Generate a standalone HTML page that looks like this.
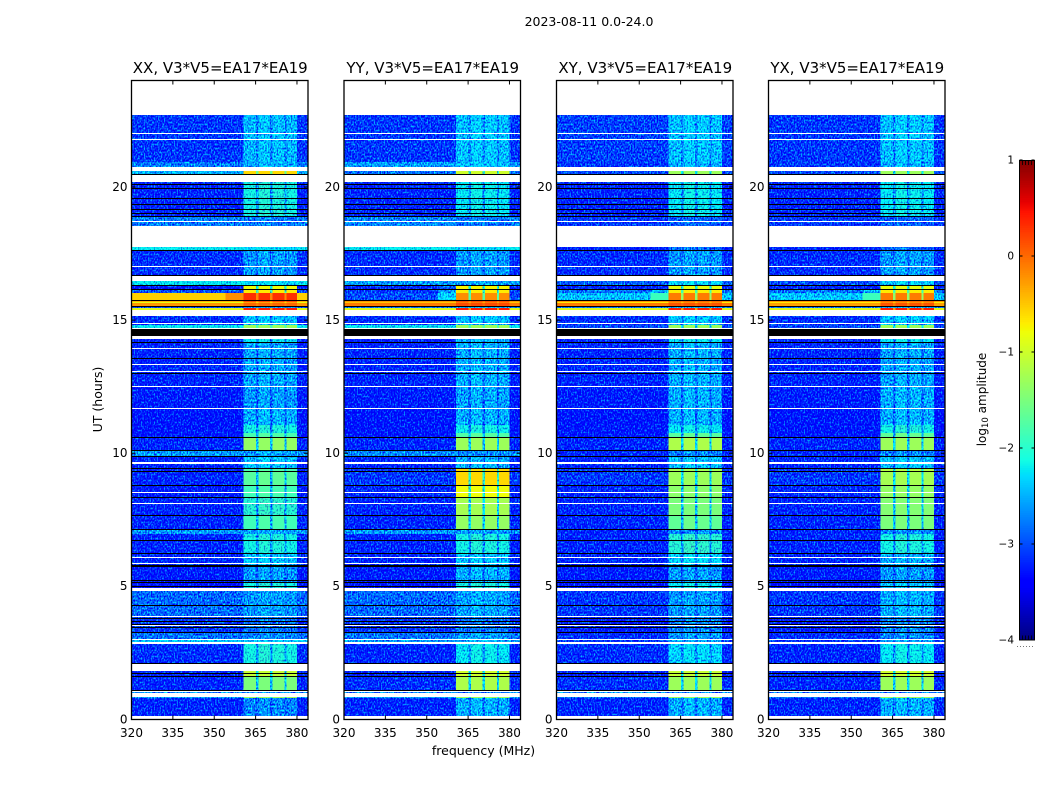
<!DOCTYPE html>
<html lang="en">
<head>
<meta charset="utf-8">
<title>2023-08-11 dynamic spectra</title>
<style>
html,body{margin:0;padding:0;background:#fff;}
svg{display:block;font-family:"DejaVu Sans","Liberation Sans",sans-serif;fill:#000;}
</style>
</head>
<body>
<svg id="figure" xmlns="http://www.w3.org/2000/svg" width="1050" height="800" viewBox="0 0 1050 800">
<defs>
<filter id="grain" filterUnits="userSpaceOnUse" x="0" y="0" width="1050" height="800" color-interpolation-filters="sRGB">
<feTurbulence type="fractalNoise" baseFrequency="0.7 0.5" numOctaves="1" seed="4" result="t"/>
<feColorMatrix in="t" type="matrix" values="0.15 0 0 0 0.4  2.2 0 0 0 -0.62  0.2 0 0 0 0.4  0 0 0 0 1" result="n"/>
<feComposite in="SourceGraphic" in2="n" operator="arithmetic" k1="0" k2="1" k3="1" k4="-0.5" result="c"/>
<feComposite in="c" in2="SourceGraphic" operator="in"/>
</filter>
</defs>
<text x="589" y="26" font-size="12.5" text-anchor="middle">2023-08-11 0.0-24.0</text>
<text x="483.5" y="755" font-size="12.5" text-anchor="middle">frequency (MHz)</text>
<text transform="translate(102 399.5) rotate(-90)" font-size="12.5" text-anchor="middle">UT (hours)</text>
<text transform="translate(986 399.5) rotate(-90)" font-size="12" text-anchor="middle">log<tspan font-size="8.5" dy="2">10</tspan><tspan dy="-2"> amplitude</tspan></text>
<g id="panels"></g>
<g id="colorbar"></g>
</svg>
<script>
// Axis tick labels
const freqTicks = [320, 335, 350, 365, 380];
const utTicks = [0, 5, 10, 15, 20];
const cbarTicks = [-4, -3, -2, -1, 0, 1];
const panelTitles = ["XX, V3*V5=EA17*EA19", "YY, V3*V5=EA17*EA19", "XY, V3*V5=EA17*EA19", "YX, V3*V5=EA17*EA19"];

// Frequency segments (MHz) and what each holds
const freqEdges = [320, 354, 360.7, 365.1, 366, 370.3, 371.1, 375.5, 376.2, 380.1, 384];
const freqRoles = ["off", "shoulder", "ch", "gap", "ch", "gap", "ch", "gap", "ch", "off"];
const channelGains = [-0.12, -0.04, -0.07, -0.12];

// Time blocks (UT hours), upper and lower bound
const blockTop = [22.69,20.93,20.61,20.18,18.88,17.74,17.61,16.46,16.31,16.13,16.01,15.77,15.68,15.64,15.53,15.47,15.15,14.83,14.29,14.16,12.53,11.70,11.06,10.76,10.59,10.13,9.88,9.45,9.30,8.81,8.36,7.69,7.16,6.98,6.26,5.74,5.14,4.84,3.90,3.30,3.00,2.85,1.84,1.61,1.05,0.86,0.79];
const blockBottom = [20.93,20.74,20.46,18.88,18.54,17.61,16.69,16.31,16.13,16.01,15.77,15.68,15.64,15.53,15.47,15.38,14.83,14.70,14.16,12.53,11.70,11.06,10.76,10.59,10.13,9.88,9.45,9.30,8.81,8.36,7.69,7.16,6.98,6.26,5.81,5.14,4.93,3.90,3.30,3.00,2.89,2.14,1.61,1.09,1.01,0.79,0.15];

// log10 amplitude per block: off-band level and in-band level
const xxOff = [-3.1,-2.75,-2.5,-3.2,-2.75,-2.2,-3.15,-2.2,-3.3,-3.0,-0.55,-0.4,-0.85,-0.25,-3,-0.9,-3.15,-2.2,-3.2,-3.2,-3.25,-3.3,-3.3,-3.3,-3.2,-2.6,-3.2,-3.2,-3.2,-3.25,-3.2,-3.2,-2.6,-3.2,-3.2,-3.25,-3.35,-2.85,-3.1,-2.8,-2.4,-3.15,-3.2,-3.2,-2.7,-2.6,-3.2];
const xxOn = [-2.35,-2.4,-0.6,-2.0,-2.7,-2.2,-2.5,-2.2,-0.8,-0.7,0.3,0.15,-0.3,0,-2.5,0.4,-2.3,-1.3,-2.1,-2.45,-2.5,-2.4,-2.0,-1.7,-1.35,-2.5,-2.3,-1.7,-1.6,-1.75,-1.9,-1.75,-2.5,-2.0,-2.3,-2.5,-2.0,-2.5,-2.7,-2.6,-2.3,-2.0,-1.05,-1.5,-2.7,-1.3,-2.6];
const yyOff = [-3.1,-2.6,-2.8,-3.2,-2.7,-2.2,-3.15,-2.6,-3.2,-3.1,-3.0,-0.25,-0.5,-0.1,-2.8,-0.9,-3.15,-2.2,-3.2,-3.2,-3.25,-3.3,-3.3,-3.3,-3.2,-2.7,-3.2,-3.1,-3.1,-3.2,-3.2,-3.2,-2.6,-3.2,-3.2,-3.25,-3.3,-2.85,-3.1,-2.8,-2.6,-3.2,-3.2,-3.15,-2.7,-2.6,-3.2];
const yyOn = [-2.3,-2.3,-1.0,-2.1,-2.7,-2.2,-2.5,-2.5,-0.75,-0.7,-0.2,0.15,-0.1,0.15,-2.4,0.4,-2.3,-1.3,-2.4,-2.4,-2.45,-2.4,-2.05,-1.65,-1.3,-2.6,-2.4,-0.6,-0.6,-0.8,-1.25,-1.35,-2.5,-2.0,-2.3,-2.4,-2.0,-2.45,-2.7,-2.5,-2.4,-2.1,-1.0,-1.2,-2.7,-1.3,-2.4];
const xyOff = [-3.05,-3.1,-3.0,-3.2,-3.1,-3.2,-3.15,-2.9,-3.2,-2.8,-2.4,-0.25,-0.7,-0.1,-2.8,-0.9,-3.15,-3.0,-3.2,-3.2,-3.25,-3.3,-3.3,-3.3,-3.2,-3.2,-3.2,-3.1,-3.1,-3.2,-3.2,-3.2,-3.2,-3.2,-3.2,-3.25,-3.3,-3.1,-3.25,-3.15,-3.1,-3.15,-3.2,-3.15,-2.7,-2.8,-3.2];
const xyOn = [-2.3,-2.4,-1.3,-2.1,-2.8,-2.7,-2.5,-2.2,-0.85,-0.7,-0.1,0,-0.2,0.1,-2.4,0.4,-2.3,-1.3,-2.1,-2.4,-2.4,-2.4,-2.1,-1.6,-1.2,-2.6,-2.3,-1.25,-1.3,-1.4,-1.5,-1.55,-2.6,-1.9,-2.2,-2.5,-2.1,-2.5,-2.6,-2.5,-2.5,-2.2,-1.05,-1.3,-2.7,-1.3,-2.4];
const yxOff = [-3.1,-3.1,-3.0,-3.2,-3.1,-3.2,-3.15,-3.0,-3.2,-2.8,-2.4,-0.25,-0.7,-0.3,-2.8,-0.9,-3.15,-3.0,-3.2,-3.2,-3.25,-3.3,-3.3,-3.3,-3.2,-3.2,-3.2,-3.1,-3.1,-3.2,-3.2,-3.2,-3.2,-3.2,-3.2,-3.25,-3.3,-3.1,-3.25,-3.15,-3.1,-3.2,-3.2,-3.2,-2.7,-2.8,-3.2];
const yxOn = [-2.3,-2.4,-1.3,-2.1,-2.8,-2.8,-2.5,-2.2,-0.85,-0.7,-0.1,0,-0.2,0.1,-2.4,0.4,-2.3,-1.3,-2.1,-2.45,-2.4,-2.4,-2.0,-1.55,-1.3,-2.6,-2.3,-1.15,-1.25,-1.35,-1.45,-1.5,-2.6,-2.0,-2.4,-2.5,-2.3,-2.4,-2.6,-2.6,-2.5,-2.1,-1.0,-1.3,-2.7,-1.3,-2.4];

// Blocks with leakage just below the band: block number and shoulder level
const xxShoulder = [[10, -0.2]];
const yyShoulder = [[8, -2.9], [9, -2.6], [10, -2.3]];
const xyShoulder = [[9, -2.5], [10, -1.9]];
const yxShoulder = [[9, -2.5], [10, -1.9]];

// Flagged times (UT hours): upper and lower bounds
const blackTop = [20.475,20.10,19.95,19.575,19.35,19.16,19.01,18.90,17.625,16.69,16.33,16.16,15.77,15.525,14.66,14.175,13.575,13.01,10.61,10.14,9.90,9.45,9.34,8.81,8.36,7.67,7.16,6.75,6.24,5.81,5.25,5.175,5.025,4.31,3.825,3.69,3.60,3.49,3.30,2.14,1.74,1.63,1.11];
const blackBottom = [20.4375,20.0625,19.91,19.54,19.31,19.125,18.975,18.86,17.59,16.65,16.29,16.125,15.73,15.49,14.42,14.14,13.54,12.975,10.575,10.11,9.86,9.39,9.28,8.775,8.325,7.63,7.125,6.71,6.21,5.72,5.21,5.14,4.99,4.275,3.79,3.66,3.56,3.45,3.26,2.10,1.70,1.59,1.07];
const whiteTop = [22.01,21.79,18.71,17.04,14.89,14.70,13.95,13.35,13.09,12.54,11.70,9.675,8.55,8.14,6.11,5.89,3.90,3.56,3.04,2.91];
const whiteBottom = [21.975,21.75,18.675,17.01,14.85,14.66,13.91,13.31,13.05,12.51,11.66,9.60,8.51,8.10,6.075,5.85,3.84,3.525,2.98,2.85];

const panelOff = [xxOff, yyOff, xyOff, yxOff];
const panelOn = [xxOn, yyOn, xyOn, yxOn];
const panelShoulder = [xxShoulder, yyShoulder, xyShoulder, yxShoulder];
const panelNames = ["xx", "yy", "xy", "yx"];

const SVGNS = "http://www.w3.org/2000/svg";
const panelLefts = [131.5, 344, 556.5, 768.5];
const panelWidth = 176.5;
const plotTop = 80.5;
const plotBottom = 719.5;
const grainLimit = -1.9;

function xScale(left, f) { return left + (f - 320) / 64 * panelWidth; }
function yScale(t) { return plotBottom - t / 24 * (plotBottom - plotTop); }
function colorY(v) { return 640 - (v + 4) / 5 * 480; }

function jetChannel(t, pts) {
  for (let i = 1; i < pts.length; i++) {
    if (t <= pts[i][0]) {
      const a = pts[i - 1], b = pts[i];
      return a[1] + (b[1] - a[1]) * (t - a[0]) / (b[0] - a[0]);
    }
  }
  return pts[pts.length - 1][1];
}
function jet(v) {
  const t = Math.max(0, Math.min(1, (v + 4) / 5));
  const r = jetChannel(t, [[0, 0], [0.35, 0], [0.66, 1], [0.89, 1], [1, 0.5]]);
  const g = jetChannel(t, [[0, 0], [0.125, 0], [0.375, 1], [0.64, 1], [0.91, 0], [1, 0]]);
  const b = jetChannel(t, [[0, 0.5], [0.11, 1], [0.34, 1], [0.65, 0], [1, 0]]);
  return "rgb(" + Math.round(r * 255) + "," + Math.round(g * 255) + "," + Math.round(b * 255) + ")";
}
function make(tag, parent) {
  const el = document.createElementNS(SVGNS, tag);
  parent.appendChild(el);
  return el;
}
function setAll(el, attrs) {
  for (const k in attrs) el.setAttribute(k, attrs[k]);
}
// Snap a time span to whole device rows so thin flagged rows stay crisp
function rowBox(top, bottom) {
  const y0 = Math.round(yScale(top));
  const y1 = Math.round(yScale(bottom));
  return { y: y0, height: Math.max(1, y1 - y0) };
}

const panelsRoot = document.getElementById("panels");

panelTitles.forEach(function (title, p) {
  const left = panelLefts[p];
  const right = left + panelWidth;
  const g = make("g", panelsRoot);
  
  

  const cells = make("g", g);
  
  
  cells.setAttribute("filter", "url(#grain)");
  cells.setAttribute("shape-rendering", "crispEdges");

  const hotCells = make("g", g);
  
  
  hotCells.setAttribute("shape-rendering", "crispEdges");

  blockTop.forEach(function (top, b) {
    const off = panelOff[p][b];
    const on = panelOn[p][b];
    const sh = panelShoulder[p].find(function (s) { return s[0] === b; });
    const box = rowBox(top, blockBottom[b]);
    let ch = 0;
    freqRoles.forEach(function (role, s) {
      let v = off;
      if (role === "ch") { v = on < -1.5 ? on + channelGains[ch] : on; ch++; }
      if (role === "gap") { v = off + (on - off) * 0.45; }
      if (role === "shoulder" && sh) { v = sh[1]; }
      const x0 = xScale(left, freqEdges[s]);
      const x1 = xScale(left, freqEdges[s + 1]);
      const r = make("rect", v < grainLimit ? cells : hotCells);
      
      
      setAll(r, { x: x0, y: box.y, width: x1 - x0, height: box.height, fill: jet(v) });
    });
  });

  const flags = make("g", g);
  
  
  flags.setAttribute("shape-rendering", "crispEdges");
  whiteTop.forEach(function (top, i) {
    const box = rowBox(top, whiteBottom[i]);
    const r = make("rect", flags);
    
    
    setAll(r, { x: left, y: box.y, width: panelWidth, height: box.height, fill: "#fff" });
  });
  blackTop.forEach(function (top, i) {
    const box = rowBox(top, blackBottom[i]);
    const r = make("rect", flags);
    
    
    setAll(r, { x: left, y: box.y, width: panelWidth, height: box.height, fill: "#000" });
  });

  const frame = make("rect", g);
  
  
  setAll(frame, { x: left, y: plotTop, width: panelWidth, height: plotBottom - plotTop, fill: "none", stroke: "#000", "stroke-width": 1.3 });

  const t = make("text", g);
  
  
  setAll(t, { x: left + panelWidth / 2 + 0.5, y: 73, "font-size": 15, "text-anchor": "middle" });
  t.textContent = title;

  freqTicks.forEach(function (f) {
    const x = xScale(left, f);
    [[plotBottom, plotBottom - 4], [plotTop, plotTop + 4]].forEach(function (yy) {
      const tick = make("line", g);
      
      
      setAll(tick, { x1: x, x2: x, y1: yy[0], y2: yy[1], stroke: "#000", "stroke-width": 1 });
    });
    const lab = make("text", g);
    
    
    setAll(lab, { x: x, y: 737, "font-size": 12, "text-anchor": "middle" });
    lab.textContent = f;
  });

  utTicks.forEach(function (u) {
    const y = yScale(u);
    [[left, left + 4], [right, right - 4]].forEach(function (xx) {
      const tick = make("line", g);
      
      
      setAll(tick, { x1: xx[0], x2: xx[1], y1: y, y2: y, stroke: "#000", "stroke-width": 1 });
    });
    const lab = make("text", g);
    
    
    setAll(lab, { x: left - 4, y: y + 3.8, "font-size": 12, "text-anchor": "end" });
    lab.textContent = u;
  });
});

// Colourbar
const cbRoot = document.getElementById("colorbar");
const cbLeft = 1019.5, cbRight = 1034.5;
const cbSwatches = make("g", cbRoot);


cbSwatches.setAttribute("shape-rendering", "crispEdges");
for (let v = -4; v < 1; v += 5 / 256) {
  const r = make("rect", cbSwatches);
  
  
  setAll(r, { x: cbLeft, y: colorY(v + 5 / 256), width: cbRight - cbLeft, height: 480 / 256 + 0.5, fill: jet(v) });
}
const cbFrame = make("rect", cbRoot);


setAll(cbFrame, { x: cbLeft, y: 160.5, width: cbRight - cbLeft, height: 479.5, fill: "none", stroke: "#000", "stroke-width": 1 });
cbarTicks.forEach(function (v) {
  const y = colorY(v);
  [[cbLeft, cbLeft + 3], [cbRight, cbRight - 3]].forEach(function (xx) {
    const tick = make("line", cbRoot);
    
    
    setAll(tick, { x1: xx[0], x2: xx[1], y1: y, y2: y, stroke: "#000", "stroke-width": 1 });
  });
  const lab = make("text", cbRoot);
  
  
  setAll(lab, { x: 1014, y: y + 3.5, "font-size": 10.5, "text-anchor": "end" });
  lab.textContent = v < 0 ? "\u2212" + Math.abs(v) : String(v);
});
for (let i = 1; i < 5; i++) {
  const x = cbLeft + i * 3;
  [[160.5, 165], [640, 635.5]].forEach(function (yy) {
    const m = make("line", cbRoot);
    
    
    setAll(m, { x1: x, x2: x, y1: yy[0], y2: yy[1], stroke: "#000", "stroke-width": 0.8 });
  });
}
const cbDots = make("line", cbRoot);


setAll(cbDots, { x1: 1017, x2: 1035, y1: 646.5, y2: 646.5, stroke: "#777", "stroke-width": 1, "stroke-dasharray": "1 2" });
</script>
</body>
</html>
